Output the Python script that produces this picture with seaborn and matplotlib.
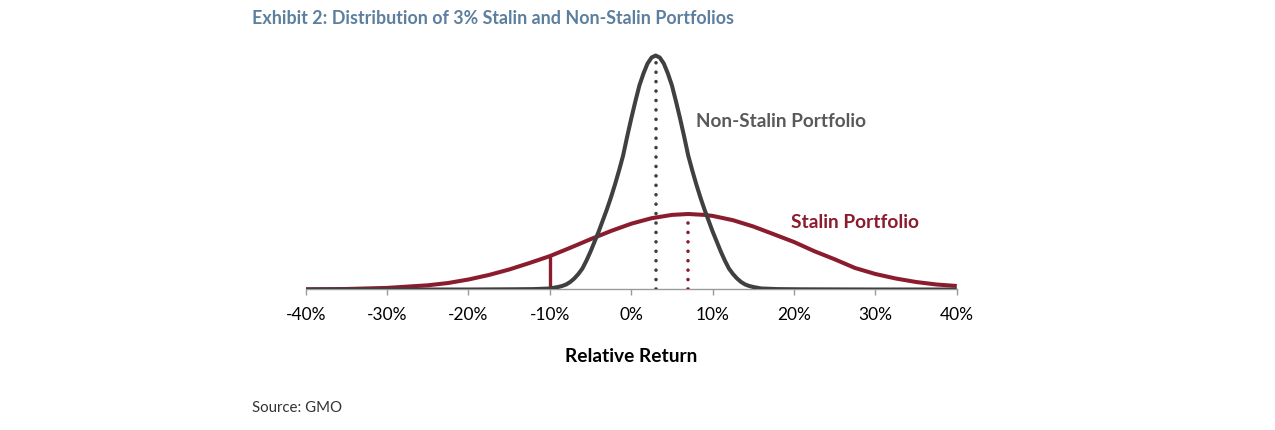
"""Exhibit 2 - distribution of 3% Stalin and Non-Stalin portfolios."""

import matplotlib

matplotlib.use("Agg")
import matplotlib.pyplot as plt
import pandas as pd
import seaborn as sns

# Non-Stalin curve (x = relative return %, y = height)
NON_STALIN_X = [-40, -30, -20, -15, -12, -10, -9, -8.5, -8, -7.5, -7, -6.5,
                -6, -5.5, -5, -4.5, -4, -3.5, -3, -2.5, -2, -1.5, -1, -0.5,
                0, 0.5, 1, 1.5, 2, 2.5, 3, 3.5, 4, 4.5, 5, 5.5, 6, 6.5, 7,
                7.5, 8, 8.5, 9, 9.5, 10, 10.5, 11, 11.5, 12, 12.5, 13, 13.5,
                14, 14.5, 15, 16, 18, 21, 30, 40]
NON_STALIN_Y = [0, 0, 0, 0.2, 0.4, 1, 2.5, 3.5, 5, 7.5, 11, 15.5,
                21, 29, 38, 48, 58, 69, 80, 92, 105, 119, 134, 153,
                171, 188, 204, 216, 226, 232, 234, 232, 226, 216, 204, 188,
                171, 153, 134, 119, 105, 92, 80, 69, 58, 48, 38, 29, 21,
                15.5, 11, 7.5, 5, 3.5, 2.5, 1, 0.4, 0.2, 0, 0]

# Stalin curve
STALIN_X = [-40, -35, -30, -27.5, -25, -22.5, -20, -17.5, -15, -12.5, -10,
            -7.5, -5, -2.5, 0, 2.5, 5, 7, 9, 10, 12.5, 15, 17.5, 20, 22.5,
            25, 27.5, 30, 32.5, 35, 37.5, 40]
STALIN_Y = [0.2, 0.5, 1.6, 2.9, 4.2, 6.5, 10, 14.5, 20, 26.5, 33.4,
            41.7, 50.3, 58.5, 65.8, 71.3, 74.6, 75.5, 74.6, 73.6, 69.3,
            63, 55.3, 47.5, 38.3, 30.2, 21.5, 15.5, 11, 7.5, 5, 3.5]

NON_STALIN_MEAN = 3
STALIN_MEAN = 7
STALIN_CUTOFF = -10

TICKS = [-40, -30, -20, -10, 0, 10, 20, 30, 40]
TICK_LABELS = ["-40%", "-30%", "-20%", "-10%", "0%", "10%", "20%", "30%", "40%"]

GREY = "#404040"
RED = "#8b1c2e"
LABEL_GREY = "#595959"
TITLE_BLUE = "#5d7f9e"

sns.set_style("white")
plt.rcParams["font.family"] = ["Lato", "DejaVu Sans"]

non_stalin = pd.DataFrame({"ret": NON_STALIN_X, "h": NON_STALIN_Y})
stalin = pd.DataFrame({"ret": STALIN_X, "h": STALIN_Y})

fig = plt.figure(figsize=(12.75, 4.31), dpi=100)
ax = fig.add_axes([0.2398, 0.326, 0.5106, 0.5568])

sns.lineplot(data=stalin, x="ret", y="h", ax=ax, color=RED, lw=2.9,
             solid_capstyle="butt", zorder=3)
sns.lineplot(data=non_stalin, x="ret", y="h", ax=ax, color=GREY, lw=2.9,
             solid_capstyle="butt", zorder=4)

# mean markers (dotted) and the -10% cut-off
peak_ns = max(NON_STALIN_Y)
peak_s = STALIN_Y[STALIN_X.index(STALIN_MEAN)]
cut_s = STALIN_Y[STALIN_X.index(STALIN_CUTOFF)]
dots = (0, (0.01, 2.6))
ax.plot([NON_STALIN_MEAN, NON_STALIN_MEAN], [0, peak_ns - 2], color=GREY,
        lw=2.6, ls=dots, dash_capstyle="round", zorder=5)
ax.plot([STALIN_MEAN, STALIN_MEAN], [0, peak_s - 2], color=RED,
        lw=2.6, ls=dots, dash_capstyle="round", zorder=5)
ax.plot([STALIN_CUTOFF, STALIN_CUTOFF], [0, cut_s], color=RED, lw=2.4,
        solid_capstyle="butt", zorder=3)

ax.text(8.0, 169.5, "Non-Stalin Portfolio", color=LABEL_GREY, fontsize=13.6,
        fontweight="bold", va="center", ha="left")
ax.text(19.6, 67.5, "Stalin Portfolio", color=RED, fontsize=13.8,
        fontweight="bold", va="center", ha="left")

ax.set_xlim(-40, 40)
ax.set_ylim(0, 240)
ax.set_xticks(TICKS)
ax.set_xticklabels(TICK_LABELS)
ax.set_yticks([])
ax.set_xlabel("")
ax.set_ylabel("")
for side in ("left", "top", "right"):
    ax.spines[side].set_visible(False)
ax.spines["bottom"].set_color("#9a9a9a")
ax.spines["bottom"].set_linewidth(1.0)
ax.tick_params(axis="x", direction="out", length=4, width=1, color="#9a9a9a",
               pad=8, labelsize=12.5, labelcolor="black", bottom=True)

fig.text(0.4949, 0.1717, "Relative Return", ha="center", va="center",
         fontsize=13.8, fontweight="bold", color="black")
fig.text(0.1976, 0.956, "Exhibit 2: Distribution of 3% Stalin and Non-Stalin Portfolios",
         ha="left", va="center", fontsize=12.9, fontweight="bold", color=TITLE_BLUE)
fig.text(0.198, 0.053, "Source: GMO", ha="left", va="center", fontsize=10.8,
         color="#333333")

fig.savefig("out.png", dpi=100)
